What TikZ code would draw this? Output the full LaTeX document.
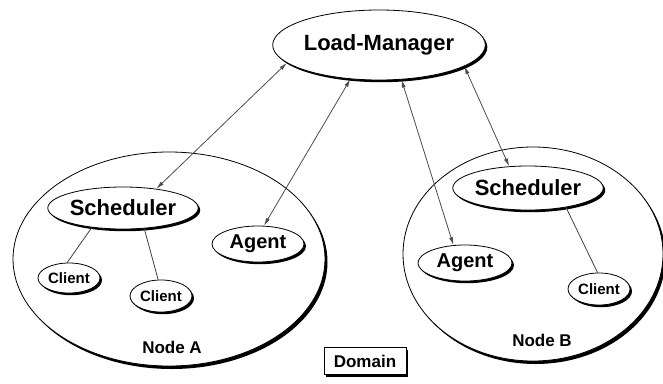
\documentclass[tikz,border=0pt]{standalone}
\usepackage{fontspec}
\setmainfont{Liberation Sans}
\usetikzlibrary{shapes.geometric,shadows,arrows.meta}

\tikzset{
  shade/.style={drop shadow={shadow xshift=2pt,shadow yshift=-2.2pt,fill=black,opacity=1}},
  proc/.style={ellipse,draw=black,line width=0.8pt,fill=white,inner sep=0pt,shade,font=\bfseries},
  host/.style={ellipse,draw=black,line width=0.8pt,fill=white,inner sep=0pt,
    drop shadow={shadow xshift=2.5pt,shadow yshift=-3pt,fill=black,opacity=1}},
  hostlabel/.style={font=\bfseries\fontsize{17}{17}\selectfont,inner sep=0pt},
  link/.style={draw=black!70,line width=0.8pt,{Latex[length=8pt,width=4pt]}-{Latex[length=8pt,width=4pt]}},
  tie/.style={draw=black!75,line width=0.8pt},
}

\begin{document}
\begin{tikzpicture}[x=1pt,y=-1pt]
\useasboundingbox (0,0) rectangle (663,383);

% hosts
\node[host,minimum width=312pt,minimum height=214pt] (hostA) at (169,259) {};
\node[host,minimum width=260pt,minimum height=214pt] (hostB) at (533,254) {};

% central manager
\node[proc,minimum width=206pt,minimum height=70pt,font=\bfseries\fontsize{22}{22}\selectfont] (lm) at (379,45) {Load-Manager};

% processes on node A
\node[proc,minimum width=142pt,minimum height=42pt,font=\bfseries\fontsize{22}{22}\selectfont] (sa) at (123,208) {Scheduler};
\node[proc,minimum width=92pt,minimum height=36pt,font=\bfseries\fontsize{20}{20}\selectfont] (aa) at (258,244) {Agent};
\node[proc,minimum width=62pt,minimum height=30pt,font=\bfseries\fontsize{15}{15}\selectfont] (ca1) at (69,278) {Client};
\node[proc,minimum width=62pt,minimum height=32pt,font=\bfseries\fontsize{15}{15}\selectfont] (ca2) at (161,296) {Client};
\node[hostlabel] (labA) at (172,347) {Node A};

% processes on node B
\node[proc,minimum width=144pt,minimum height=44pt,font=\bfseries\fontsize{22}{22}\selectfont] (sb) at (528,188) {Scheduler};
\node[proc,minimum width=94pt,minimum height=36pt,font=\bfseries\fontsize{20}{20}\selectfont] (ab) at (465,263) {Agent};
\node[proc,minimum width=62pt,minimum height=32pt,font=\bfseries\fontsize{15}{15}\selectfont] (cb) at (599,289) {Client};
\node[hostlabel] (labB) at (542,340) {Node B};

% domain tag
\node[draw=black,line width=0.8pt,fill=white,shade,minimum width=82pt,minimum height=27pt,inner sep=0pt,
  font=\bfseries\fontsize{17}{17}\selectfont] (dom) at (365,361) {Domain};

% manager links
\draw[link] (lm.191) -- (sa.30);
\draw[link] (lm.230) -- (aa.72);
\draw[link] (lm.303) -- (ab.123);
\draw[link] (lm.346) -- (sb.131);

% scheduler to clients
\draw[tie] (sa.212) -- (ca1.97);
\draw[tie] (sa.316) -- (ca2.100);
\draw[tie] (sb.333) -- (cb.95);
\end{tikzpicture}
\end{document}
